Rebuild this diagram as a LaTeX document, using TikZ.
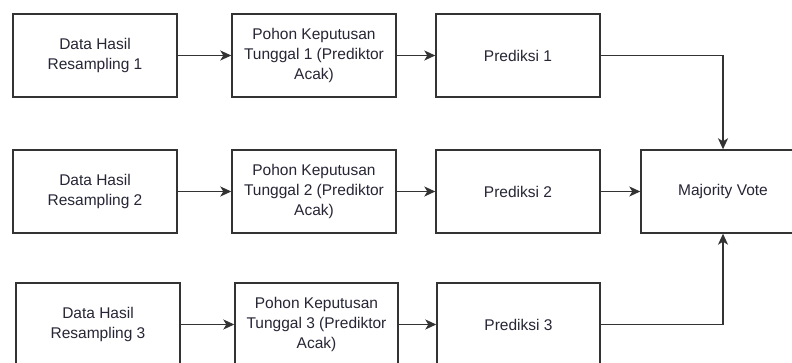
\documentclass[tikz,border=0pt]{standalone}
\usepackage{fontspec}
\setmainfont{Liberation Sans}
\usetikzlibrary{arrows.meta}
\definecolor{linec}{HTML}{333333}
\definecolor{textc}{HTML}{262636}
\begin{document}
\begin{tikzpicture}[x=1pt,y=-1pt,
  box/.style={draw=linec, line width=1.4pt, fill=white, minimum width=164pt, minimum height=83pt,
    inner sep=0pt, align=center, text=textc, font=\fontsize{15.5}{20}\selectfont},
  conn/.style={draw=linec, line width=1.4pt, -{Stealth[length=11pt,width=10pt,inset=3pt]}}]
\clip (0,0) rectangle (792,363);
\fill[white] (0,0) rectangle (792,363);
% row 1
\node[box] (d1) at (95,55.5) {Data Hasil\\Resampling 1};
\node[box] (p1) at (314,55.5) {Pohon Keputusan\\Tunggal 1 (Prediktor\\Acak)};
\node[box] (r1) at (518,55.5) {Prediksi 1};
% row 2
\node[box] (d2) at (95,191.5) {Data Hasil\\Resampling 2};
\node[box] (p2) at (314,191.5) {Pohon Keputusan\\Tunggal 2 (Prediktor\\Acak)};
\node[box] (r2) at (518,191.5) {Prediksi 2};
\node[box] (mv) at (723,191.5) {Majority Vote};
% row 3
\node[box] (d3) at (98,324.5) {Data Hasil\\Resampling 3};
\node[box, minimum width=163pt] (p3) at (316.5,324.5) {Pohon Keputusan\\Tunggal 3 (Prediktor\\Acak)};
\node[box, minimum width=163pt] (r3) at (518.5,324.5) {Prediksi 3};
% connectors
\draw[conn] (d1) -- (p1);
\draw[conn] (p1) -- (r1);
\draw[conn] (d2) -- (p2);
\draw[conn] (p2) -- (r2);
\draw[conn] (r2) -- (mv);
\draw[conn] (d3) -- (p3);
\draw[conn] (p3) -- (r3);
\draw[conn] (r1.east) -| (mv.north);
\draw[conn] (r3.east) -| (mv.south);
\end{tikzpicture}
\end{document}
